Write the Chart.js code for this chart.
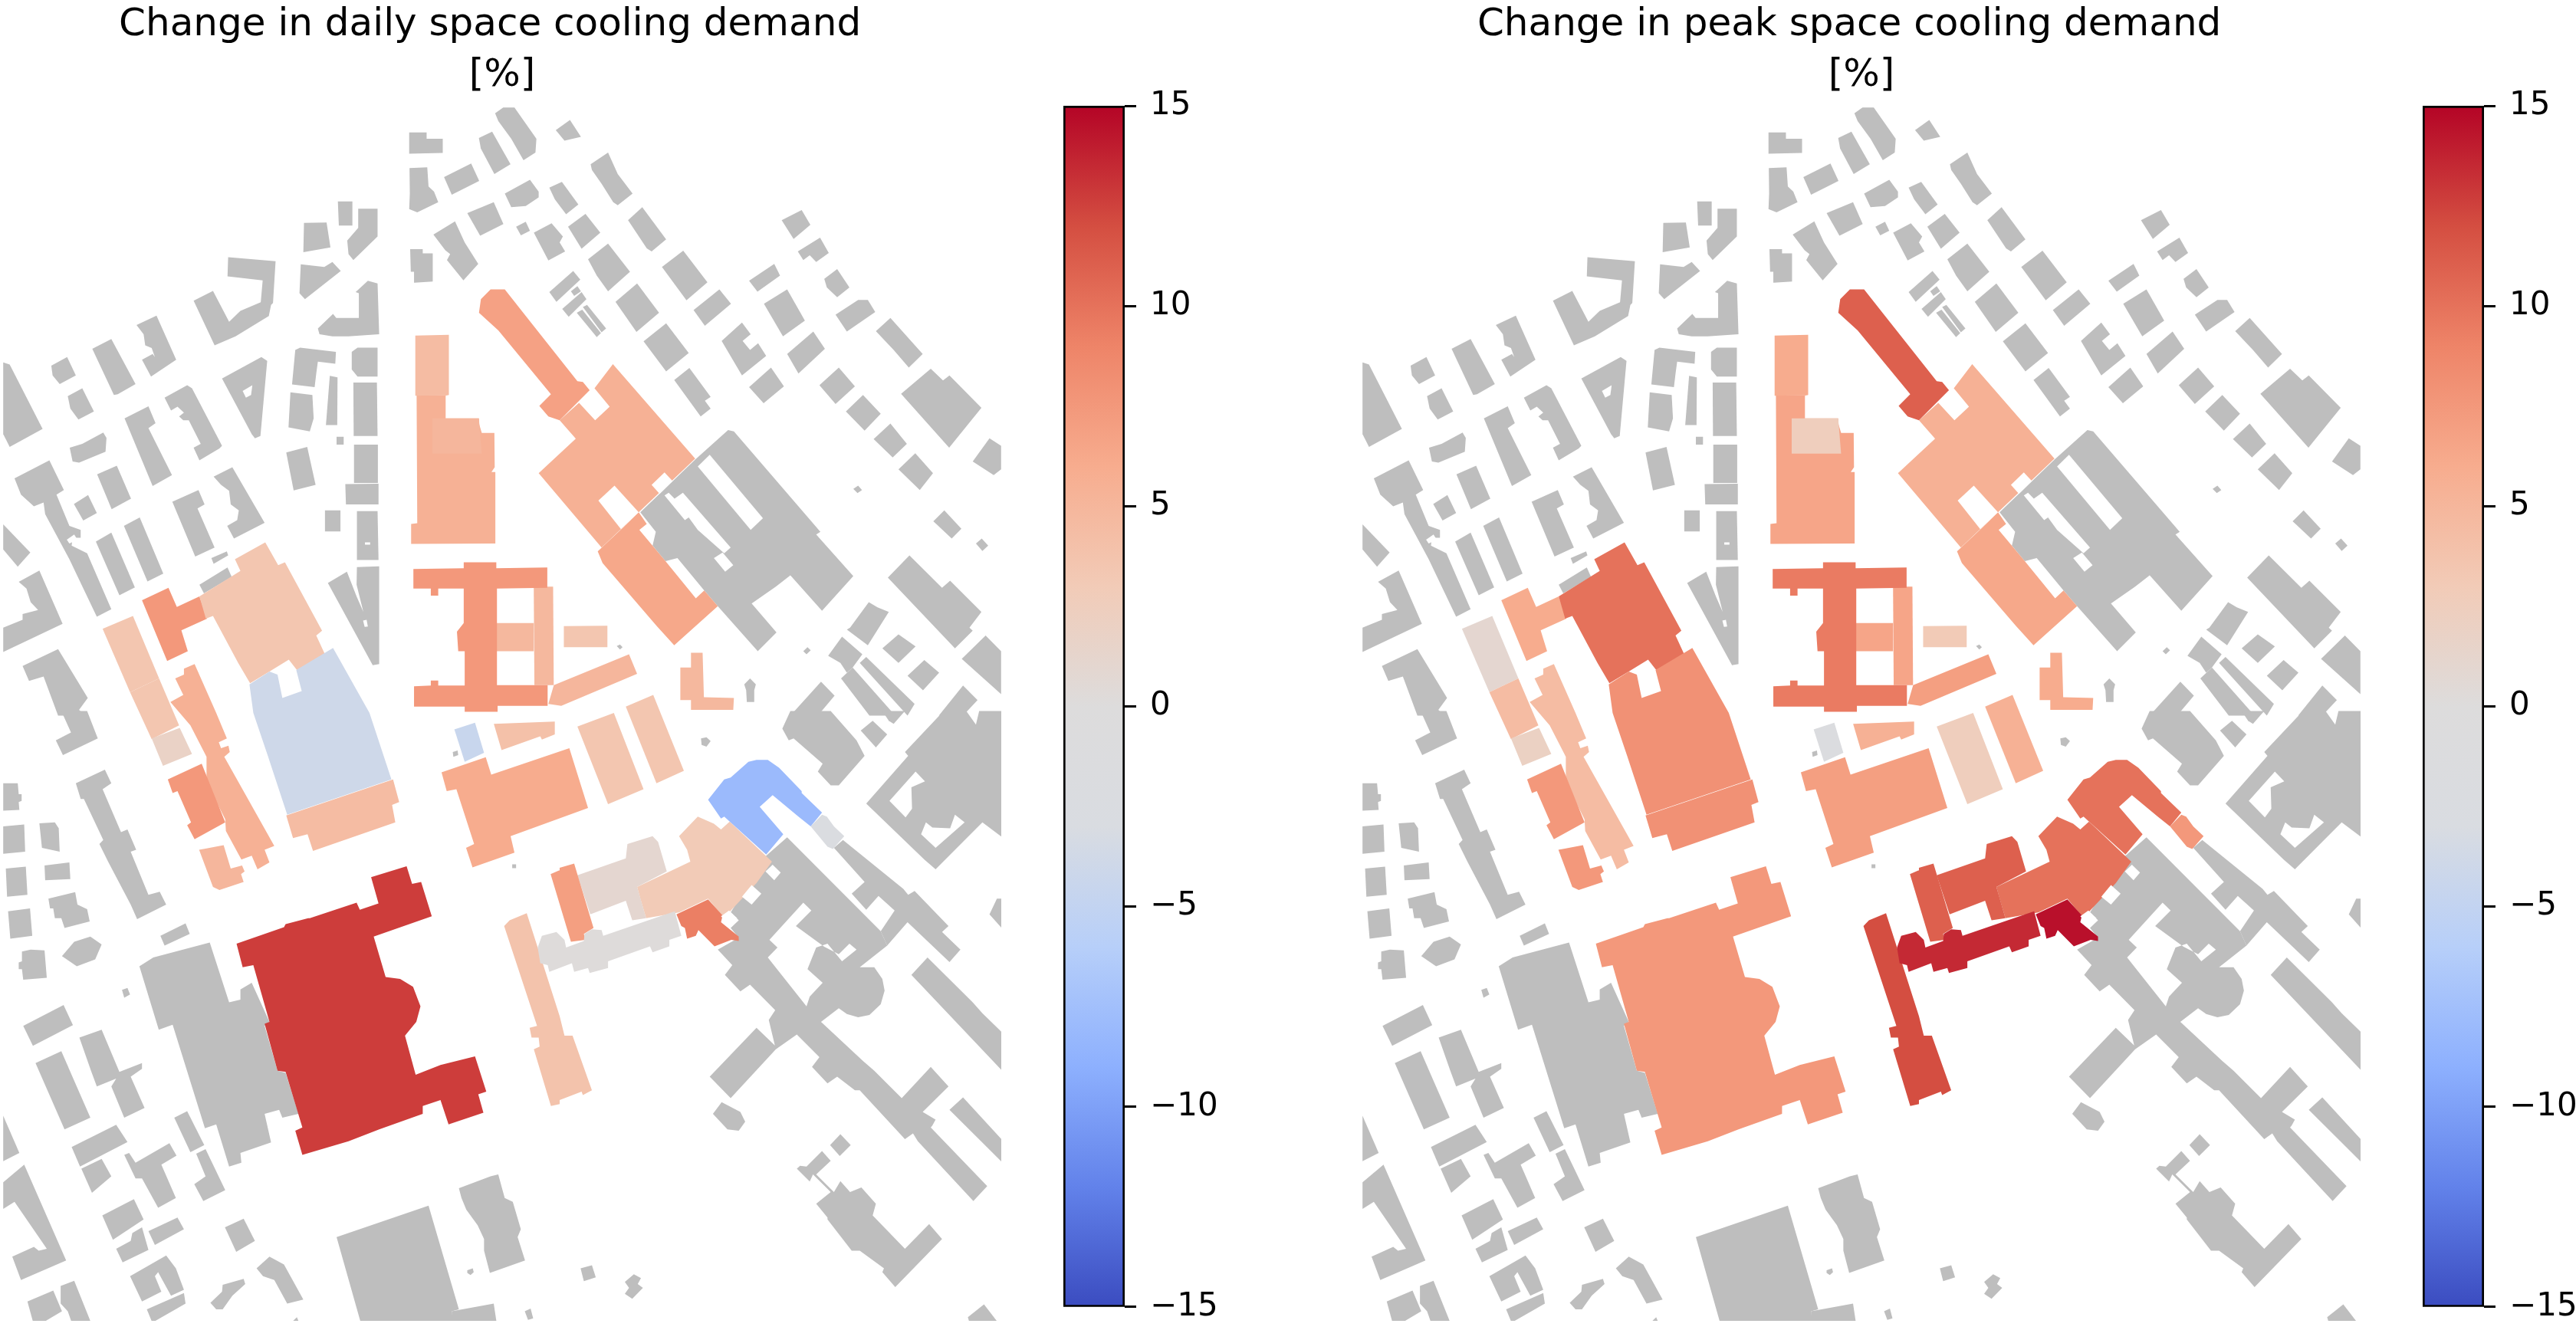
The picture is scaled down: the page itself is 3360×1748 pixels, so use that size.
<!DOCTYPE html>
<html><head><meta charset="utf-8">
<script src="https://cdn.jsdelivr.net/npm/chart.js@4"></script>
<style>html,body{margin:0;padding:0;background:#fff;width:3360px;height:1748px;overflow:hidden}canvas{position:absolute;top:0}</style>
</head><body>
<canvas id="mapA" width="1320" height="1748" style="left:4px"></canvas>
<canvas id="barA" width="300" height="1748" style="left:1387px"></canvas>
<canvas id="mapB" width="1320" height="1748" style="left:1777px"></canvas>
<canvas id="barB" width="300" height="1748" style="left:3060px;display:none"></canvas>
<canvas id="barC" width="200" height="1748" style="left:3160px"></canvas>
<script>
const titleDaily = ['Change in daily space cooling demand\u00a0\u00a0', '[%]'];
const titlePeak = ['Change in peak space cooling demand\u00a0\u00a0', '[%]'];
const colorTicks = [-15, -10, -5, 0, 5, 10, 15];
const coolwarm = ['#3b4cc0','#6282ea','#8db0fe','#b7cff9','#d9dce1','#dddcdc','#f2cbb7','#f7ac8e','#ee8468','#d44e41','#b40426'];
const sheets = {NW:[0,130],NE:[650,130],SW:[0,930],SE:[650,930]};
const grayNW = [
[1268,84,1322,84,1322,100,1372,100,1372,136,1268,138],
[1269,175,1324,173,1328,222,1345,235,1358,262,1293,288,1268,280,1270,240],
[1376,198,1460,163,1485,208,1400,243],
[1484,98,1525,82,1582,165,1532,190,1490,125],
[1448,290,1530,262,1560,318,1488,348],
[1343,345,1410,311,1440,365,1482,420,1436,462,1385,410,1395,395,1380,385],
[1271,382,1310,382,1310,393,1341,393,1341,465,1285,468,1283,440,1273,440],
[1047,260,1092,260,1092,322,1050,322],
[1110,279,1170,279,1170,350,1095,410,1080,395,1076,360,1110,328],
[942,315,1012,314,1024,378,940,390],
[932,421,1005,428,1030,415,1056,438,945,510,928,495],
[707,403,854,413,846,520,840,525,833,553,730,605,665,628,600,514,660,489,710,568,745,540,808,518,814,462,705,452],
[1140,463,1170,470,1175,600,1080,605,1030,605,990,600,985,585,1032,548,1042,558,1112,558,1112,495,1102,492],
[1090,645,1108,634,1170,634,1170,708,1108,708,1090,690],
[915,640,930,634,1041,645,1039,675,985,670,980,700,975,735,905,728],
[900,748,968,755,972,815,960,848,894,838],
[1022,706,1046,710,1045,832,1010,832],
[1095,723,1168,723,1170,860,1096,860],
[1043,862,1065,862,1065,882,1043,882],
[887,902,952,888,978,985,910,999],
[1097,882,1171,882,1171,980,1097,980],
[1070,983,1173,982,1173,1035,1072,1035],
[1007,1050,1055,1050,1055,1104,1007,1104],
[1106,1052,1170,1052,1173,1177,1106,1177],
[1106,1195,1175,1193,1175,1443,1155,1446,1016,1236,1075,1207,1105,1270,1126,1310,1105,1240],
[688,713,810,658,828,668,807,860,790,866,780,855],
[10,672,30,677,132,842,30,888,10,855],
[159,680,208,658,235,705,185,727,163,705],
[286,637,345,612,420,727,365,753,353,755],
[423,576,485,552,546,665,468,708,440,665,473,650,480,658,470,635,450,628,445,600],
[210,758,255,738,291,797,243,818,218,790],
[216,890,255,880,320,851,330,865,327,900,245,928,225,925],
[386,815,460,784,482,827,460,840,533,960,473,988],
[510,762,580,730,595,738,688,885,680,892,618,922,600,890,622,880,585,820,568,820,555,810,570,800,550,785,530,795],
[45,968,153,922,198,998,175,1010,215,1090,250,1100,250,1120,225,1120,222,1140,270,1160,345,1303,300,1322,215,1175,140,1060,135,1030,105,1040,65,1010],
[301,958,362,936,406,1020,346,1047],
[229,1034,273,1011,300,1057,258,1076],
[297,1130,345,1107,418,1247,370,1267],
[384,1090,433,1068,506,1212,457,1232],
[534,1028,615,998,634,1035,612,1045,665,1145,605,1168],
[662,964,720,940,820,1082,725,1122,704,1090,735,1075,740,1050,715,1035,710,1000,685,985],
[655,1172,703,1155,707,1165,662,1187],
[618,1240,705,1196,718,1220,632,1262],
[10,1086,94,1158,55,1194,10,1150],
[58,1233,122,1204,194,1340,10,1412,10,1350,70,1330,70,1315,118,1305,95,1285,82,1250],
[70,1448,180,1405,272,1530,245,1560,265,1575,180,1575,135,1475,90,1486]
];
const grayNE = [
[-10,35,15,20,50,20,118,100,115,135,78,155,40,100,0,55],
[178,78,222,52,256,95,205,105],
[286,165,340,135,370,190,416,240,370,270,356,262,320,215,290,180],
[20,240,98,205,125,235,125,250,85,272,40,275],
[158,225,197,210,248,268,210,293,175,255],
[216,325,270,292,316,340,258,381],
[55,325,85,312,98,335,70,347],
[110,340,165,316,200,350,190,365,207,388,155,411],
[402,308,446,275,520,357,475,388,460,380],
[278,408,340,368,408,440,340,490,305,450],
[507,428,573,386,648,467,583,513],
[158,492,232,438,254,460,180,517],
[225,490,245,477,256,490,235,502],
[198,535,258,492,273,510,218,555],
[243,545,260,537,318,597,305,607],
[262,530,275,525,334,585,320,595],
[363,517,430,470,498,545,428,594],
[450,618,520,572,590,648,520,695],
[605,538,685,485,721,522,640,578],
[545,717,592,686,658,760,640,770,658,790,627,810],
[692,617,755,570,782,600,757,617,780,640,805,623,830,655,755,705],
[777,735,845,685,885,733,822,776],
[777,463,855,420,873,450,803,491],
[823,522,895,485,950,565,882,605],
[895,650,976,593,1012,637,930,700],
[878,308,940,282,967,320,915,356],
[928,388,997,353,1024,392,985,415,965,398,945,410],
[1010,458,1050,433,1088,480,1050,505,1018,480],
[1045,550,1115,512,1145,512,1168,543,1080,593],
[1170,592,1215,558,1315,650,1272,685,1225,640],
[995,730,1055,685,1105,733,1045,778],
[1077,797,1130,755,1185,803,1135,846],
[1163,868,1215,828,1266,880,1222,915],
[1240,945,1292,904,1347,955,1306,998],
[1248,752,1340,688,1378,718,1398,705,1497,788,1397,890],
[1470,925,1522,866,1558,885,1558,945,1535,960],
[1100,995,1115,987,1127,998,1113,1006],
[1348,1078,1382,1050,1435,1097,1405,1122],
[1480,1135,1498,1122,1518,1140,1500,1154],
[440,1055,610,920,712,845,730,848,998,1105,985,1112,1100,1218,1003,1307,905,1216,860,1245,785,1288,862,1362,804,1410,680,1295,638,1255,555,1172,518,1180,478,1140,488,1105],
[1207,1222,1274,1165,1375,1248,1400,1230,1497,1310,1460,1350,1470,1358,1415,1403],
[1090,1350,1148,1285,1175,1298,1210,1310,1145,1395,1080,1355],
[1190,1403,1240,1367,1293,1398,1240,1440],
[1268,1473,1320,1433,1366,1465,1316,1510],
[1436,1430,1510,1370,1558,1410,1558,1520],
[945,1410,958,1400,968,1408,955,1418],
[768,1510,770,1540,793,1540,793,1510,798,1495,780,1480,762,1495],
[1365,1575,1440,1498,1485,1535,1440,1575],
[905,1575,1000,1488,1042,1524,990,1575],
[1022,1422,1065,1373,1128,1418,1098,1452,1080,1465,1060,1440],
[1062,1480,1098,1452,1230,1575,1150,1575],
[1120,1440,1140,1425,1290,1545,1268,1575],
[367,1397,377,1393,385,1400,377,1406]
];
const graySW = [
[190,-5,270,-5,303,65,195,108,173,70,220,50],
[235,180,325,145,345,180,318,195,375,305,395,298,422,350,405,355,460,465,495,457,515,490,425,527,405,490,335,380,308,335,320,325,260,220,250,220],
[10,180,55,180,58,208,67,208,67,225,58,228,60,248,10,250],
[10,290,75,285,78,355,10,360],
[122,282,170,280,182,295,185,355,130,345],
[18,398,80,393,85,465,22,470],
[138,390,215,382,218,425,140,428],
[150,475,233,458,240,490,270,502,278,533,200,550,190,525,170,525,165,500,155,500],
[25,507,93,500,100,570,32,577],
[497,570,575,538,588,565,510,595],
[192,622,230,585,280,572,315,592,295,630,238,648],
[68,610,95,605,138,607,145,677,72,682,68,655,58,655,58,638,68,635],
[378,708,395,703,403,720,385,728],
[72,800,197,747,226,798,102,851],
[246,830,315,810,370,918,440,895,440,910,405,930,448,1010,385,1035,345,955,360,935,300,955,282,915],
[110,895,190,865,280,1035,200,1065],
[432,648,475,625,650,587,710,740,745,733,745,707,780,690,835,790,820,800,860,915,885,920,925,1025,875,1035,865,1015,820,1025,840,1098,745,1125,748,1150,710,1160,670,1052,635,1062,535,797,492,810],
[540,1035,580,1018,633,1105,590,1123],
[608,1127,637,1115,698,1220,630,1248,602,1205,637,1185],
[10,1030,60,1125,10,1146],
[222,1110,360,1053,395,1097,248,1160],
[252,1165,315,1140,345,1185,285,1227],
[385,1130,400,1125,420,1150,525,1100,547,1132,500,1155,545,1240,490,1265,440,1190,420,1190],
[10,1200,75,1155,205,1400,65,1450,38,1390,105,1365,120,1375,145,1370,45,1250,10,1268],
[317,1285,415,1243,445,1295,350,1347],
[360,1370,405,1350,410,1330,440,1315,460,1373,380,1405],
[460,1325,550,1290,570,1320,480,1360],
[697,1315,755,1293,790,1350,732,1378],
[403,1440,515,1387,545,1420,570,1475,530,1490,500,1445,490,1430,480,1440,500,1480,440,1505],
[455,1525,570,1483,575,1510,480,1555,470,1555],
[652,1508,688,1480,690,1462,755,1447,760,1460,720,1490,690,1525,670,1525],
[795,1420,835,1390,880,1410,940,1500,890,1510,850,1450,815,1440],
[85,1505,165,1477,192,1530,120,1565,105,1565],
[188,1465,230,1452,285,1565,225,1565,210,1530,188,1510],
[1043,1340,1328,1260,1422,1525,1400,1530,1405,1565,1120,1565],
[1400,1530,1530,1510,1540,1565,1400,1565],
[1422,1215,1520,1185,1544,1180,1564,1240,1589,1250,1614,1320,1604,1340,1627,1400,1518,1432,1500,1375,1500,1345,1480,1310,1445,1270,1430,1240],
[895,1565,920,1545,930,1565],
[1448,1425,1465,1420,1468,1430,1458,1437,1448,1432],
[1403,100,1418,96,1420,108,1405,112]
];
const graySE = [
[880,40,905,-5,1030,-5,1110,70,1135,110,1055,185,1030,185,990,150,1005,130,915,65,900,70],
[1123,45,1160,20,1205,55,1170,88],
[1190,-5,1260,-5,1225,28,1210,20],
[1140,232,1270,110,1260,100,1380,-5,1450,-5,1480,30,1490,-5,1565,-5,1565,320,1500,280,1355,400,1320,375],
[830,365,895,318,1185,558,1205,595,1120,650,1165,650,1190,680,1197,710,1185,745,1150,772,1115,778,1080,770,1055,755,1000,790,1130,890,1165,915,1250,985,1340,905,1395,955,1315,1020,1355,1040,1345,1055,1340,1060,1515,1210,1472,1248,1300,1095,1285,1075,1260,1090,1120,965,1105,965,1050,930,1020,947,972,905,995,880,925,822,860,860,720,985,655,930,800,805,857,850,838,785,858,760,780,695,750,712,702,670,725,645,680,605,745,575,720,550,745,530,720,510],
[1040,345,1068,325,1255,450,1270,465,1290,455,1395,545,1375,560,1432,605,1398,637,1268,535,1205,595,1185,558,1228,505,1178,468,1140,503,1095,462,1135,432],
[1280,670,1330,625,1470,740,1500,768,1565,820,1565,918],
[1398,1015,1440,983,1565,1095,1565,1152],
[1522,515,1545,475,1565,475,1565,555],
[925,1165,935,1158,955,1160,1003,1120,1030,1145,985,1180,1040,1225,1060,1197,1090,1225,1125,1213,1170,1255,1160,1285,1260,1370,1335,1307,1375,1345,1230,1468,1190,1430,1195,1420,1120,1375,1095,1375,1020,1295,1020,1290,985,1255,1030,1225,975,1180,965,1198],
[1028,1105,1060,1077,1092,1105,1058,1133],
[665,1025,692,995,750,1020,765,1045,745,1068,710,1065],
[255,1420,290,1412,302,1443,265,1453],
[392,1455,420,1435,442,1445,432,1460,448,1470,415,1498,392,1485,405,1470],
[82,1530,100,1523,108,1548,92,1552],
[1455,1545,1505,1512,1545,1555,1520,1565,1462,1565],
[628,65,645,62,658,72,645,86,630,82],
[43,387,55,387,55,397,43,397]
];
const courtyardNW = [
[1131,1132,1147,1132,1147,1138,1131,1138],
[1125,1332,1136,1330,1140,1347,1130,1348],
[752,745,782,730,778,755,762,762],
[207,1125,230,1112,240,1125,215,1135]
];
const courtyardNE = [
[618,938,655,908,820,1070,782,1100],
[515,1012,528,1005,546,1020,572,1005,720,1145,700,1160,618,1100,590,1068,578,1075],
[668,1172,695,1158,728,1190,703,1207],
[310,1025,360,987,435,1055,380,1098],
[475,985,515,953,540,975,500,1008]
];
const courtyardSE = [
[828,405,850,388,875,408,855,428],
[755,470,785,440,815,462,785,490],
[690,520,715,505,740,525,720,547],
[835,625,865,600,840,580,945,485,970,505,922,545,1010,598,1055,617,1088,590,1110,605,1065,635,1020,590,985,600,958,655,1005,690,965,725,955,750],
[1212,225,1293,150,1322,175,1280,190,1282,245,1262,267],
[1310,310,1325,280,1345,293,1400,295,1415,260,1445,280,1355,345]
];
const buildingSheets = ['NW','NW','NW','NW','NW','NW','NW','SW','SW','NW','NW','NW','SW','SW','SW','SE','SE','SE','SE','NW','NW','NE','NE','NE','NW','NW','NW','NE','NE','NE','SE','SE','SE','SE','SE','SE','SE','SE'];
const buildingOutlines = [
[318,1353,412,1320,493,1480,403,1515],
[403,1515,493,1480,555,1600,470,1635],
[470,1633,557,1606,595,1673,505,1703],
[440,1280,522,1248,548,1297,618,1270,642,1327,562,1357,582,1410,518,1435],
[618,1270,745,1205,728,1175,822,1132,862,1190,883,1183,998,1358,980,1370,1008,1420,920,1458,895,1432,835,1462,775,1492,738,1440,660,1320,638,1327],
[773,1495,835,1462,860,1470,875,1530,935,1512,918,1458,1032,1402,1145,1568,1213,1738,890,1828,830,1678,785,1568],
[528,1540,568,1522,543,1480,570,1470,570,1455,603,1443,670,1568,703,1633,678,1643,685,1658,708,1652,712,1668,695,1680,850,1908,820,1918,835,1950,798,1968,780,1933,748,1943,700,1870,698,1840,640,1745,640,1680,590,1600],
[520,170,625,130,698,280,603,323,580,287,592,280,550,200,535,205],
[617,350,637,347,693,338,715,398,750,390,758,405,747,412,755,432,680,453,660,445],
[1291,755,1391,755,1381,757,1381,815,1484,815,1485,830,1493,852,1532,852,1533,940,1523,952,1535,952,1535,1135,1274,1136,1274,1085,1293,1083],
[1287,603,1391,601,1391,755,1287,757],
[1340,815,1484,815,1493,905,1340,905],
[887,262,1218,170,1237,228,1215,235,1225,280,970,353,953,310,908,320],
[733,590,880,548,885,540,955,525,960,525,1105,485,1115,503,1173,487,1150,420,1260,392,1277,437,1305,432,1338,520,1158,572,1195,675,1240,680,1280,700,1303,750,1290,790,1255,825,1288,925,1365,900,1472,878,1507,968,1482,975,1498,1022,1390,1052,1365,990,1310,1005,1310,1025,1175,1065,1080,1095,937,1130,915,1068,937,1060,885,918,860,915,820,795,835,790,785,645,752,650],
[1408,42,1472,25,1500,102,1440,125],
[-176,152,-39,113,-22,158,220,90,278,243,38,315,50,357,-80,395,-100,345,-75,335,-130,195,-160,200],
[245,35,358,0,450,195,340,233],
[395,-16,480,-46,575,148,490,180],
[-14,28,175,22,175,55,135,68,130,60,10,95],
[1654,1245,1714,1245,1716,1497,1656,1497],
[1538,1338,1654,1338,1654,1410,1538,1410],
[172,1497,405,1418,430,1468,195,1550,155,1545],
[203,1346,338,1345,338,1400,203,1400],
[564,1452,597,1452,597,1414,633,1414,637,1528,730,1530,728,1560,597,1560,597,1535,564,1535],
[1281,1200,1437,1198,1437,1183,1538,1183,1538,1198,1696,1196,1696,1248,1540,1250,1540,1497,1697,1497,1697,1550,1542,1550,1542,1565,1440,1565,1440,1552,1283,1552,1283,1500,1335,1498,1335,1485,1358,1485,1358,1498,1440,1498,1440,1410,1420,1410,1416,1360,1437,1338,1437,1250,1358,1250,1358,1268,1335,1268,1335,1250,1281,1250],
[190,820,240,867,125,955,320,1145,435,1055,610,918,355,676,298,738,345,785,300,820,250,775],
[385,1095,435,1055,460,1085,437,1100,518,1180,612,1275,638,1255,680,1295,545,1395,490,1345,323,1185,308,1155],
[-60,545,-54,510,-24,485,20,485,80,548,245,720,262,722,283,743,190,820,155,810,127,783,163,753,0,590],
[18,545,35,530,88,512,190,775,205,825,230,825,290,965,262,977,258,968,190,990,190,1000,163,1005,110,860,128,853,125,830,103,830,97,805,120,800],
[430,445,595,380,585,350,560,315,618,265,668,283,690,298,717,278,848,380,800,435,715,510,695,520,650,475,560,510,458,525,440,475],
[245,415,395,372,400,335,478,315,495,330,522,405,430,445,458,525,415,530,395,480,285,515],
[650,222,700,170,720,165,775,125,800,120,835,120,870,140,940,200,940,205,1003,255,968,290,930,265,850,210,810,240,883,310,830,362,700,265,690,270],
[968,290,1003,260,1018,265,1040,290,1072,315,1037,348,1020,342],
[162,412,188,403,190,396,235,385,295,550,265,565,270,580,225,585],
[552,515,650,477,695,518,690,535,745,572,745,583,722,580,670,597,620,555,612,570,585,577,578,550,567,545],
[122,600,135,570,180,560,205,580,210,600,265,583,267,565,290,553,320,555,325,570,465,530,547,507,567,570,530,580,530,597,478,612,470,597,340,635,340,652,283,665,278,652,235,662,228,640,158,662,153,645,130,640]
];
const dailyChange = [3.5,3.5,1.8,7.5,3.5,-4,5.5,7.5,5,5.5,4.5,5,4.5,12.7,-4.5,6,3.5,3.5,4,4.8,4.8,5,3.5,4.8,7.5,5.5,6.3,6.8,3.8,3,1,-8,-2.5,7,9.3,0.2];
const peakChange = [1,4.5,2,6,10,8,4.5,7.5,7.5,6.5,6,2.5,8,7.5,-1.5,7,2.5,5.5,5.5,6.5,6.5,7,3,6,9.5,5.5,6.3,11,12,10,11,10,7.5,11,14.5,13.5];
const sheetOrder = buildingSheets;
</script>
<script>
const GRAY = '#bebebe';
const sx = 660/1568, sy = 800/1568;
const toPoints = (sheet, flat) => { const o = sheets[sheet], p = [];
  for (let i = 0; i < flat.length; i += 2) p.push({x:o[0]+flat[i]*sx, y:o[1]+flat[i+1]*sy}); return p; };
function hex(c){return [1,3,5].map(i=>parseInt(c.substr(i,2),16));}
function colorOf(v){ const t=Math.max(0,Math.min(1,(v+15)/30))*(coolwarm.length-1), i=Math.min(Math.floor(t),coolwarm.length-2), f=t-i;
  const a=hex(coolwarm[i]), b=hex(coolwarm[i+1]);
  return 'rgb('+a.map((q,k)=>Math.round(q+(b[k]-q)*f)).join(',')+')'; }
// shape lists in paint order; the last in the list ends on top
const shapeIds = ['A','B','C','D','E','F','G','H','I','J','K','L','M','N','O','P','Q','R','S','T','U','V','W','X','Y','Z','a','b','c','d','e','f','g','h','i','j'];
const sheetsForBuildings = ['NW','NW','SW','NW','NW','NW','NW','SW','SW','NW','NW','NW','SW','SW','SW','SE','SE','SE','SE','NW','NW','NE','NE','NE','NW','NE','NE','NE','SE','SE','SE','SE','SE','SE','SE','SE'];
function makeMap(id, title, values){
  const list = [];
  const add=(pts,color)=>list.push({data:pts,backgroundColor:color,borderWidth:0,pointRadius:0,showLine:true,fill:'shape',tension:0});
  [['NW',grayNW],['NE',grayNE],['SW',graySW],['SE',graySE]].forEach(([s,arr])=>arr.forEach(f=>add(toPoints(s,f),GRAY)));
  buildingOutlines.forEach((f,i)=>{ const s = i===2 ? 'NW' : sheetsForBuildings[i]; add(toPoints(s,f),colorOf(values[i])); });
  [['NW',courtyardNW],['NE',courtyardNE],['SE',courtyardSE]].forEach(([s,arr])=>arr.forEach(f=>add(toPoints(s,f),'#ffffff')));
  list.forEach((d,i)=>d.order=list.length-i);
  new Chart(document.getElementById(id),{type:'scatter',data:{datasets:list},options:{
    responsive:false,animation:false,events:[],
    layout:{padding:{left:0,right:18,top:0,bottom:25}},
    plugins:{legend:{display:false},tooltip:{enabled:false},
      title:{display:true,text:title,color:'#000',align:'center',font:{family:'DejaVu Sans',size:50,weight:'normal',lineHeight:1.32},padding:{top:0,bottom:6}}},
    scales:{x:{type:'linear',display:false,min:4,max:1306},y:{type:'linear',display:false,reverse:true,min:138,max:1723}}
  }});
}
function makeBar(id){
  new Chart(document.getElementById(id),{type:'bar',data:{labels:[''],datasets:[{data:[[colorTicks[0],colorTicks[colorTicks.length-1]]],
    barPercentage:1,categoryPercentage:1,borderColor:'#000',borderWidth:3,borderSkipped:false,
    backgroundColor:(c)=>{const a=c.chart.chartArea; if(!a) return '#ddd';
      const g=c.chart.ctx.createLinearGradient(0,a.bottom,0,a.top);
      coolwarm.forEach((k,i)=>g.addColorStop(i/(coolwarm.length-1),k)); return g;}}]},
    options:{responsive:false,animation:false,events:[],
      layout:{padding:{left:0,right:0,top:138,bottom:24}},
      plugins:{legend:{display:false},tooltip:{enabled:false}},
      scales:{x:{display:false},
        y:{position:'right',min:-15,max:15,afterFit:s=>{s.width=document.getElementById(id).width-80;},
          afterBuildTicks:s=>{s.ticks=colorTicks.map(v=>({value:v}));},
          border:{display:false},
          grid:{drawOnChartArea:false,drawTicks:true,tickLength:15,color:'#000',lineWidth:3},
          ticks:{color:'#000',padding:18,autoSkip:false,font:{family:'DejaVu Sans',size:42},callback:v=>String(v).replace('-','\u2212')}}}
    }});
}
makeMap('mapA',titleDaily,dailyChange);
makeMap('mapB',titlePeak,peakChange);
makeBar('barA');
makeBar('barC');
</script>
</body></html>
